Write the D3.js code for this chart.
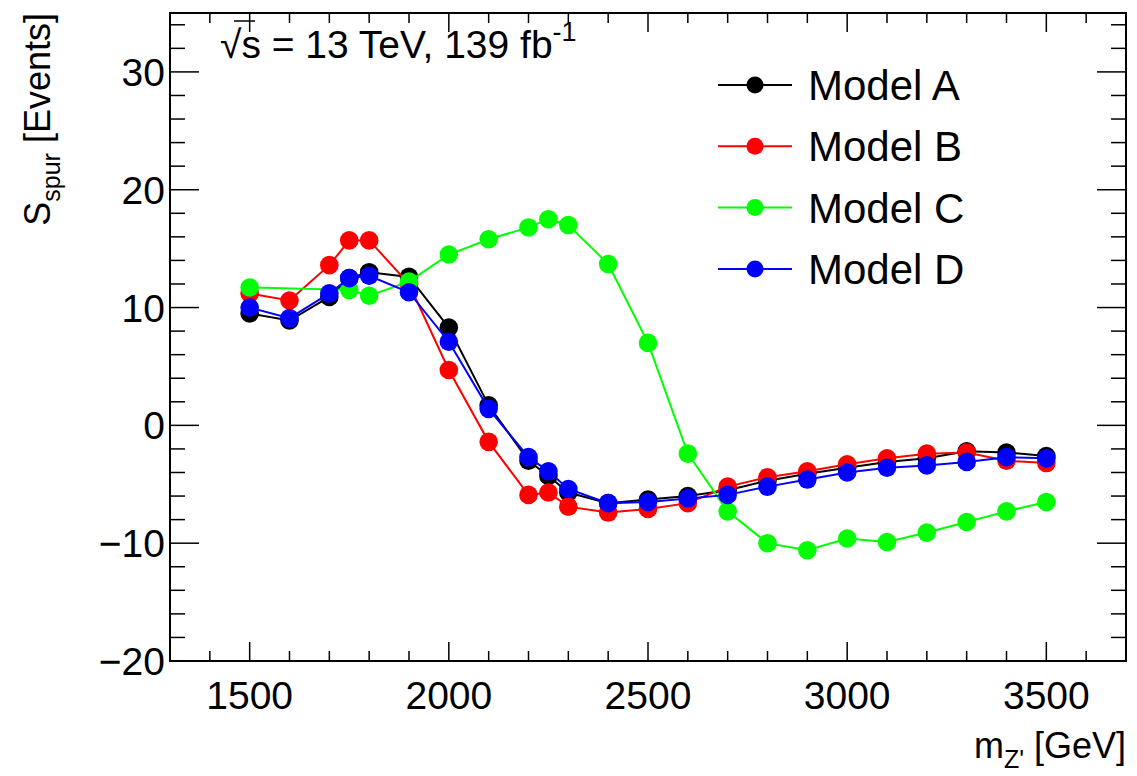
<!DOCTYPE html>
<html>
<head>
<meta charset="utf-8">
<script src="https://cdn.jsdelivr.net/npm/d3@7"></script>
<style>
  body { margin: 0; background: #fff; }
  text { font-family: "Liberation Sans", Arial, sans-serif; }
</style>
</head>
<body>
<div id="chart"></div>
<script>
// masses (GeV) for each model
const massABD = [1500, 1600, 1700, 1750, 1800, 1900, 2000, 2100, 2200, 2250, 2300, 2400,
                 2500, 2600, 2700, 2800, 2900, 3000, 3100, 3200, 3300, 3400, 3500];
const massC = [1500, 1750, 1800, 1900, 2000, 2100, 2200, 2250, 2300, 2400,
               2500, 2600, 2700, 2800, 2900, 3000, 3100, 3200, 3300, 3400, 3500];

const modelA = [9.5, 8.9, 10.9, 12.5, 13.0, 12.6, 8.3, 1.7, -3.0, -4.3, -5.7, -6.6,
                -6.3, -6.0, -5.5, -4.7, -4.1, -3.6, -3.1, -2.8, -2.2, -2.3, -2.6];
const modelB = [11.2, 10.6, 13.6, 15.7, 15.7, 12.0, 4.7, -1.4, -5.9, -5.7, -6.9, -7.4,
                -7.1, -6.6, -5.2, -4.4, -3.9, -3.3, -2.8, -2.4, -2.3, -3.0, -3.2];
const modelC = [11.7, 11.5, 11.0, 12.2, 14.5, 15.8, 16.8, 17.5, 17.0, 13.7,
                7.0, -2.4, -7.3, -10.0, -10.6, -9.6, -9.9, -9.1, -8.2, -7.3, -6.5];
const modelD = [10.0, 9.1, 11.2, 12.5, 12.7, 11.3, 7.1, 1.4, -2.7, -3.9, -5.4, -6.6,
                -6.5, -6.2, -5.9, -5.2, -4.6, -4.0, -3.6, -3.4, -3.1, -2.7, -2.8];

const modelNames = ["Model A", "Model B", "Model C", "Model D"];
const modelColors = ["#000000", "#ff0000", "#00ff00", "#0000ff"];

const xTicks = [1500, 2000, 2500, 3000, 3500];
const yTicks = [-20, -10, 0, 10, 20, 30];

const W = 1137, H = 776;
const frame = {left: 170, right: 1126, top: 13, bottom: 661};

const series = [
  {name: modelNames[0], color: modelColors[0], x: massABD, y: modelA},
  {name: modelNames[1], color: modelColors[1], x: massABD, y: modelB},
  {name: modelNames[2], color: modelColors[2], x: massC, y: modelC},
  {name: modelNames[3], color: modelColors[3], x: massABD, y: modelD}
];

const svg = d3.select("#chart").append("svg")
  .attr("width", W).attr("height", H);

const xScale = d3.scaleLinear().domain([1300, 3700]).range([frame.left, frame.right]);
const yScale = d3.scaleLinear().domain([-20, 35]).range([frame.bottom, frame.top]);

// ticks on all four sides (ROOT style)
const minorX = d3.range(1300, 3701, 100);
const minorY = d3.range(-20, 35.01, 2);
const ticks = svg.append("g").attr("stroke", "#000").attr("stroke-width", 1.5);
minorX.forEach(v => {
  const len = v % 500 === 0 ? 19 : 10;
  const x = xScale(v);
  ticks.append("line").attr("x1", x).attr("x2", x).attr("y1", frame.bottom).attr("y2", frame.bottom - len);
  ticks.append("line").attr("x1", x).attr("x2", x).attr("y1", frame.top).attr("y2", frame.top + len);
});
minorY.forEach(v => {
  const len = v % 10 === 0 ? 29 : 15;
  const y = yScale(v);
  ticks.append("line").attr("x1", frame.left).attr("x2", frame.left + len).attr("y1", y).attr("y2", y);
  ticks.append("line").attr("x1", frame.right).attr("x2", frame.right - len).attr("y1", y).attr("y2", y);
});

// frame
svg.append("rect")
  .attr("x", frame.left).attr("y", frame.top)
  .attr("width", frame.right - frame.left).attr("height", frame.bottom - frame.top)
  .attr("fill", "none").attr("stroke", "#000").attr("stroke-width", 2);

// tick labels
svg.append("g").selectAll("text").data(xTicks).join("text")
  .attr("x", d => xScale(d)).attr("y", 709)
  .attr("text-anchor", "middle").attr("font-size", 39)
  .text(d => d);
svg.append("g").selectAll("text").data(yTicks).join("text")
  .attr("x", 165).attr("y", d => yScale(d) + 14)
  .attr("text-anchor", "end").attr("font-size", 39)
  .text(d => d < 0 ? "\u2212" + Math.abs(d) : d);

// data
const line = d3.line().x(d => xScale(d[0])).y(d => yScale(d[1]));
series.forEach(s => {
  const pts = s.x.map((m, i) => [m, s.y[i]]);
  const g = svg.append("g");
  g.append("path").datum(pts).attr("d", line)
    .attr("fill", "none").attr("stroke", s.color).attr("stroke-width", 2);
  g.selectAll("circle").data(pts).join("circle")
    .attr("cx", d => xScale(d[0])).attr("cy", d => yScale(d[1]))
    .attr("r", 9.3).attr("fill", s.color);
});

// legend
const legend = svg.append("g");
series.forEach((s, i) => {
  const y = 85 + i * 61.3;
  legend.append("line").attr("x1", 718).attr("x2", 792).attr("y1", y).attr("y2", y)
    .attr("stroke", s.color).attr("stroke-width", 2);
  legend.append("circle").attr("cx", 755).attr("cy", y).attr("r", 8.5).attr("fill", s.color);
  legend.append("text").attr("x", 808).attr("y", y + 15).attr("font-size", 42).text(s.name);
});

// energy / luminosity label
const lab = svg.append("text").attr("x", 220).attr("y", 58).attr("font-size", 39);
lab.append("tspan").text("\u221A");
lab.append("tspan").text("s = 13 TeV, 139 fb");
lab.append("tspan").attr("font-size", 27).attr("dy", -17).text("-1");
svg.append("line").attr("x1", 234).attr("x2", 255).attr("y1", 21).attr("y2", 21)
  .attr("stroke", "#000").attr("stroke-width", 1.5);

// axis titles
const xt = svg.append("text").attr("x", frame.right).attr("y", 758)
  .attr("text-anchor", "end").attr("font-size", 36);
xt.append("tspan").text("m");
xt.append("tspan").attr("font-size", 25).attr("dy", 10).text("Z'");
xt.append("tspan").attr("dy", -10).text(" [GeV]");

const yt = svg.append("text").attr("transform", `translate(50, ${frame.top}) rotate(-90)`)
  .attr("text-anchor", "end").attr("font-size", 36);
yt.append("tspan").text("S");
yt.append("tspan").attr("font-size", 25).attr("dy", 10).text("spur");
yt.append("tspan").attr("dy", -10).text(" [Events]");
</script>
</body>
</html>
